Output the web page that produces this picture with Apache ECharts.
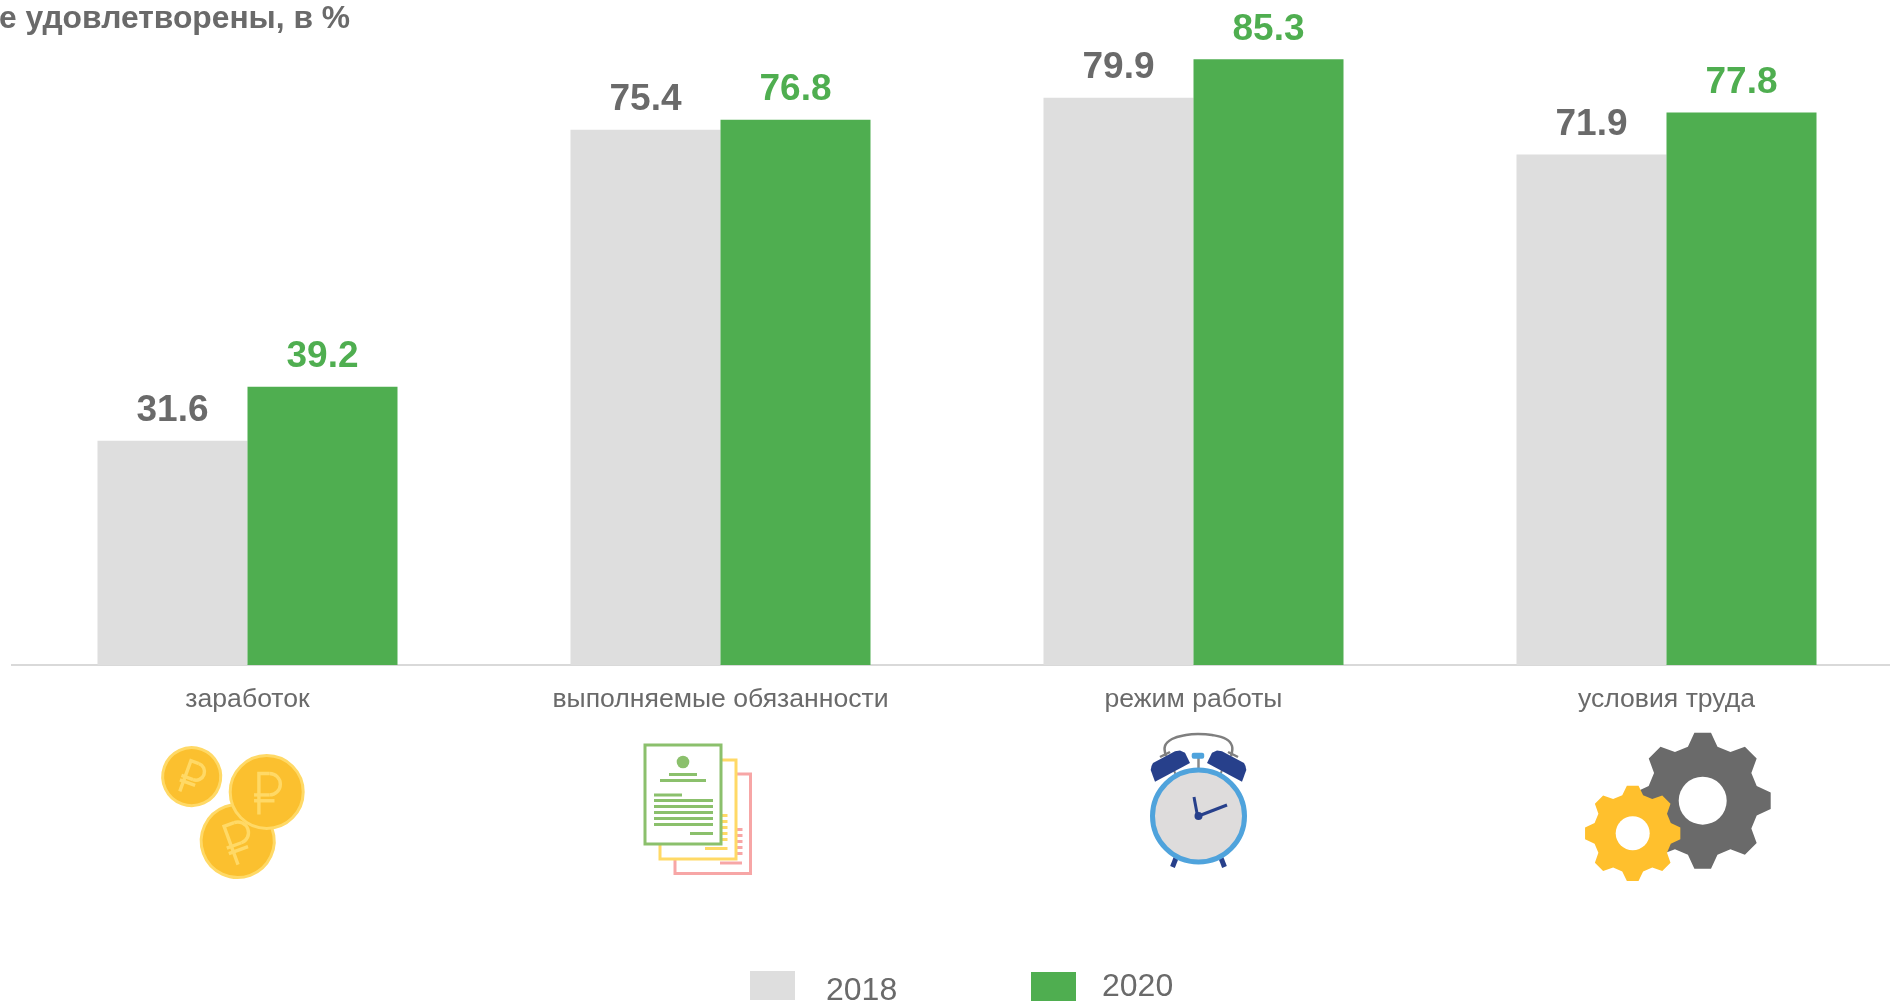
<!DOCTYPE html>
<html><head><meta charset="utf-8">
<style>html,body{margin:0;padding:0;background:#fff;overflow:hidden}#c{width:1890px;height:1004px}</style>
<script src="https://cdn.jsdelivr.net/npm/echarts@6/dist/echarts.min.js"></script>
</head><body><div id="c"></div>
<script>
const categories = ['заработок','выполняемые обязанности','режим работы','условия труда'];
const values2018 = [31.6,75.4,79.9,71.9];
const values2020 = [39.2,76.8,85.3,77.8];
const titleText = 'е удовлетворены, в %';
const FONT = '"Liberation Sans", Arial, sans-serif';
const GREY_TEXT = '#6a6a6a', GREEN = '#4fae50', LIGHT = '#dedede';

const chart = echarts.init(document.getElementById('c'), null, {renderer:'canvas'});

const ln = (x1,y1,x2,y2,c,w)=>({type:'line',shape:{x1,y1,x2,y2},style:{stroke:c,lineWidth:w},silent:true});
const rc = (x,y,width,height,fill,stroke,w,r)=>({type:'rect',shape:{x,y,width,height,r:r||0},style:{fill,stroke,lineWidth:w||0},silent:true});
const circ = (cx,cy,r,fill,stroke,w)=>({type:'circle',shape:{cx,cy,r},style:{fill,stroke,lineWidth:w||0},silent:true});
const poly = (points,fill)=>({type:'polygon',shape:{points},style:{fill},silent:true});

function coin(cx,cy,r,rotDeg){
  const k=r/37.5;
  const C='#ffd966';
  return {type:'group',x:cx,y:cy,rotation:rotDeg*Math.PI/180,silent:true,children:[
    circ(0,0,r,'#fbc02f',C,3),
    {type:'polyline',shape:{points:[[-8*k,23*k],[-8*k,-19*k],[3*k,-19*k]]},style:{stroke:C,lineWidth:3.4,fill:null},silent:true},
    {type:'arc',shape:{cx:3*k,cy:-8*k,r:11*k,startAngle:-Math.PI/2,endAngle:Math.PI/2,clockwise:true},style:{stroke:C,lineWidth:3.4,fill:null},silent:true},
    ln(-13*k,3*k,3*k,3*k,C,3.4),
    ln(-13*k,9*k,8*k,9*k,C,3.4)
  ]};
}
function gear(cx,cy,rOut,rIn,rHole,fill){
  const n=8, pts=[];
  for(let i=0;i<n;i++){
    const a=-Math.PI/2+i*2*Math.PI/n, s=2*Math.PI/n;
    pts.push([a-s*0.34,rIn],[a-s*0.155,rOut],[a+s*0.155,rOut],[a+s*0.34,rIn]);
  }
  return [
    {type:'polygon',shape:{points:pts.map(p=>[cx+p[1]*Math.cos(p[0]),cy+p[1]*Math.sin(p[0])])},style:{fill},silent:true},
    circ(cx,cy,rHole,'#fff')
  ];
}
const G='#8bc06c',Y='#ffd966',P='#f7a6a6';
const docs=[
  rc(675,774,75.5,99.5,'#fff',P,3),
  ...[829.5,835.5,841.5,847.5,853.5].map(y=>ln(737,y,742.5,y,P,3)),
  ln(720,863,742,863,P,3),
  rc(660,760,76,99,'#fff',Y,3),
  ...[815.5,821.5,827.5,833.5,839.5].map(y=>ln(722,y,727.5,y,Y,3)),
  ln(705,848.5,727.5,848.5,Y,3),
  rc(645,745,76,99,'#fff',G,3),
  circ(683,762,6.3,G),
  ln(669,774.5,697,774.5,G,3),
  ln(660,780.5,706,780.5,G,3),
  ln(654,795,682,795,G,3),
  ...[800.5,806.5,812.5,818.5,824.5].map(y=>ln(654,y,713,y,G,3)),
  ln(690,833.5,713,833.5,G,3)
];
const NAVY='#27408b',BL='#4fa3dc';
const clock=[
  {type:'polyline',shape:{points:[[1166,756],[1165,746],[1172,739],[1186,735],[1198,734],[1212,735],[1226,739],[1232,746],[1231,756]],smooth:0.4},style:{stroke:'#7f7f7f',lineWidth:2.5,fill:null},silent:true},
  ln(1160,757,1170,752,'#7f7f7f',2.5), ln(1228,752,1238,757,'#7f7f7f',2.5),
  ln(1198.5,755,1198.5,770,'#8a8a8a',2.5),
  ln(1174,770,1176,776,'#7f7f7f',2), ln(1222,770,1220,776,'#7f7f7f',2),
  rc(1191.7,752.7,12.5,6,BL,null,0,2),
  poly([[1150.7,770],[1151.5,766],[1153,763],[1175,751.2],[1180,750.5],[1185,752.7],[1190,763],[1155,781.7]],NAVY),
  poly([[1246.3,770],[1245.5,766],[1244,763],[1222,751.2],[1217,750.5],[1212,752.7],[1207,763],[1242,781.7]],NAVY),
  ln(1176,858,1172.5,867,NAVY,5), ln(1221,858,1224.5,867,NAVY,5),
  circ(1198.5,816,46,'#dedcdc',BL,5),
  ln(1197.5,816,1194,797,NAVY,3),
  ln(1198.5,816,1227,805,NAVY,3),
  circ(1198.5,816,4,NAVY)
];
const gears=[...gear(1702.7,800.7,68.5,56,24,GREY_TEXT),...gear(1632.7,833.3,48,39.5,17,'#ffc02d')];

const legendBase={top:971,padding:0,itemWidth:45,itemHeight:29,icon:'rect',selectedMode:false};
const legendRich=(pad)=>({a:{fontFamily:FONT,fontSize:32,color:GREY_TEXT,padding:pad}});
chart.setOption({
  animation:false,
  textStyle:{fontFamily:FONT},
  grid:{left:11,width:1892,top:26,bottom:1004-665,containLabel:false,outerBoundsMode:'none'},
  legend:[
    {...legendBase,left:750,data:['2018'],formatter:'{a|{name}}',textStyle:{rich:legendRich([11,0,0,26])}},
    {...legendBase,left:1031,data:['2020'],formatter:'{a|{name}}',textStyle:{rich:legendRich([1,0,0,21])}}
  ],
  xAxis:{type:'category',data:categories,
    axisTick:{show:false},
    axisLine:{lineStyle:{color:'#d9d9d9',width:2,cap:'butt'}},
    axisLabel:{fontFamily:FONT,fontSize:26.6,color:GREY_TEXT,margin:21,interval:0}},
  yAxis:{type:'value',min:0,max:90,show:false,splitLine:{show:false}},
  series:[
    {name:'2018',type:'bar',barWidth:150,barGap:0,data:values2018,itemStyle:{color:LIGHT},
     label:{show:true,position:'top',distance:11.5,fontFamily:FONT,fontWeight:'bold',fontSize:37,color:GREY_TEXT}},
    {name:'2020',type:'bar',barWidth:150,barGap:0,data:values2020,itemStyle:{color:GREEN},
     label:{show:true,position:'top',distance:11.5,fontFamily:FONT,fontWeight:'bold',fontSize:37,color:GREEN}}
  ],
  graphic:[
    {type:'text',x:-1,y:3,style:{text:titleText,font:'bold 31.8px '+FONT,fill:GREY_TEXT},silent:true},
    coin(191.7,776.7,29,-20),
    coin(237.7,841,36.5,20),
    coin(266.7,792,36.5,0),
    ...docs,...clock,...gears
  ]
});
</script></body></html>
